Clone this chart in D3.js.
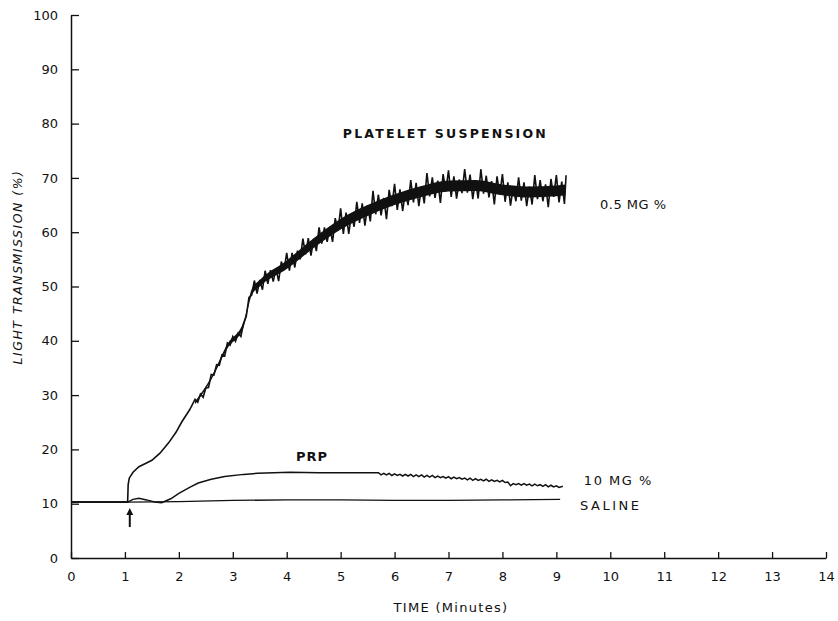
<!DOCTYPE html>
<html><head><meta charset="utf-8">
<script src="https://cdn.jsdelivr.net/npm/d3@7"></script>
<style>
html,body{margin:0;padding:0;background:#fff;}
svg text{font-family:"DejaVu Sans",sans-serif;fill:#111;}
</style></head>
<body><svg id="c" width="838" height="621"></svg>
<script>
// ---- data ----
const xTicks = [0,1,2,3,4,5,6,7,8,9,10,11,12,13,14];
const yTicks = [0,10,20,30,40,50,60,70,80,90,100];
const xTitle = "TIME (Minutes)";
const yTitle = "LIGHT TRANSMISSION (%)";
const seriesLabels = ["PLATELET SUSPENSION","0.5 MG %","PRP","10 MG %","SALINE"];
const arrowTime = 1.09;

const salineData = [[0,10.3],[1.05,10.3],[2,10.4],[3,10.6],[4,10.7],[5,10.7],[6,10.6],[7,10.6],[8,10.7],[9.07,10.8]];

const prpData = [[0,10.3],[1.05,10.3],[1.15,10.8],[1.26,11.0],[1.4,10.7],[1.55,10.3],[1.68,10.2],[1.85,10.9],[2.0,11.9],[2.2,13.0],[2.36,13.8],[2.6,14.5],[2.85,15.0],[3.2,15.4],[3.46,15.6],[4.06,15.8],[4.6,15.7],[5.28,15.7],[5.65,15.7],
[5.70,15.7],[5.75,15.3],[5.80,15.6],[5.85,15.3],[5.90,15.6],[5.95,15.2],[6.00,15.5],[6.05,15.2],[6.10,15.4],[6.15,15.1],[6.20,15.4],[6.25,15.1],[6.30,15.4],[6.35,15.0],[6.40,15.3],[6.45,15.0],[6.50,15.3],[6.55,14.9],[6.60,15.2],[6.65,14.9],[6.70,15.2],[6.75,14.8],[6.80,15.1],[6.85,14.8],[6.90,15.0],[6.95,14.7],[7.00,15.0],[7.05,14.6],[7.10,14.9],[7.15,14.6],[7.20,14.8],[7.25,14.5],[7.30,14.7],[7.35,14.4],[7.40,14.7],[7.45,14.3],[7.50,14.6],[7.55,14.3],[7.60,14.5],[7.65,14.2],[7.70,14.5],[7.75,14.1],[7.80,14.4],[7.85,14.1],[7.90,14.3],[7.95,14.0],[8.00,14.3],[8.05,13.9],[8.10,14.0],[8.15,13.3],[8.20,13.7],[8.25,13.5],[8.30,13.7],[8.35,13.4],[8.40,13.7],[8.45,13.4],[8.50,13.6],[8.55,13.3],[8.60,13.6],[8.65,13.3],[8.70,13.5],[8.75,13.2],[8.80,13.5],[8.85,13.1],[8.90,13.4],[8.95,13.1],[9.00,13.3],[9.05,13.0],[9.12,13.2]];

const plateletData = [[0,10.3],[1.05,10.3],[1.06,13.5],[1.08,14.7],[1.15,15.8],[1.26,16.8],[1.4,17.5],[1.5,18.0],[1.65,19.3],[1.81,21.2],[1.95,23.2],[2.05,25.0],[2.2,27.3],
[2.30,29.2],[2.35,28.7],[2.40,30.2],[2.45,29.6],[2.50,31.3],[2.55,31.4],[2.60,33.8],[2.65,33.7],[2.70,35.6],[2.75,35.5],[2.80,37.4],[2.85,37.2],[2.90,39.6],[2.95,39.2],[3.00,40.8],[3.05,39.9],[3.10,41.4],[3.15,40.8],[3.20,43.2],[3.25,44.5],[3.30,48.0],[3.35,48.4],[3.40,51.1],[3.45,48.7],[3.50,51.2],[3.55,49.4],[3.60,52.9],[3.65,50.5],[3.70,53.0],[3.75,50.9],[3.80,53.3],[3.85,51.0],[3.90,54.6],[3.95,53.0],[4.00,56.2],[4.05,52.9],[4.10,56.2],[4.15,53.5],[4.20,56.6],[4.25,55.0],[4.30,58.8],[4.35,55.9],[4.40,58.9],[4.45,55.7],[4.50,58.8],[4.55,56.5],[4.60,60.9],[4.65,57.9],[4.70,60.9],[4.75,58.2],[4.80,61.0],[4.85,58.2],[4.90,62.6],[4.95,60.3],[5.00,64.4],[5.05,59.7],[5.10,63.6],[5.15,59.7],[5.20,63.3],[5.25,61.0],[5.30,65.6],[5.35,61.7],[5.40,65.3],[5.45,61.2],[5.50,65.0],[5.55,62.0],[5.60,67.6],[5.65,63.3],[5.70,66.9],[5.75,63.1],[5.80,66.3],[5.85,62.4],[5.90,67.8],[5.95,64.8],[6.00,68.9],[6.05,64.1],[6.10,67.9],[6.15,63.9],[6.20,67.5],[6.25,65.0],[6.30,69.6],[6.35,65.5],[6.40,69.1],[6.45,64.8],[6.50,68.5],[6.55,65.3],[6.60,70.9],[6.65,66.6],[6.70,70.1],[6.75,66.3],[6.80,69.5],[6.85,65.4],[6.90,70.7],[6.95,67.5],[7.00,71.4],[7.05,66.5],[7.10,70.3],[7.15,66.2],[7.20,69.7],[7.25,67.2],[7.30,71.6],[7.35,67.3],[7.40,70.6],[7.45,66.1],[7.50,69.6],[7.55,66.2],[7.60,71.6],[7.65,67.1],[7.70,70.4],[7.75,66.4],[7.80,69.4],[7.85,65.1],[7.90,70.3],[7.95,66.9],[8.00,70.7],[8.05,65.6],[8.10,69.2],[8.15,64.9],[8.20,68.3],[8.25,65.7],[8.30,70.1],[8.35,65.8],[8.40,69.2],[8.45,64.8],[8.50,68.4],[8.55,65.1],[8.60,70.5],[8.65,66.1],[8.70,69.6],[8.75,65.7],[8.80,68.8],[8.85,64.6],[8.90,69.8],[8.95,66.5],[9.00,70.5],[9.05,65.5],[9.10,69.3],[9.15,65.2],[9.18,70.5]];

// dense core of the noisy platelet trace: [time, low, high]
const plateletCore = [[2.3,28.3,28.8],[2.6,32.8,33.3],[2.9,38.6,39.4],[3.2,42.5,43.5],[3.35,48.4,49.5],[3.5,50.0,51.2],[4.0,53.2,54.8],[4.5,57.1,58.9],[5.0,60.5,62.5],[5.5,63.0,65.0],[6.0,65.0,67.0],[6.5,66.5,68.5],[7.0,67.5,69.5],[7.5,67.6,69.6],[8.0,66.8,68.8],[8.5,66.4,68.4],[9.0,66.6,68.6],[9.17,66.8,68.8]];

// ---- layout ----
const svg = d3.select("#c");
const x = d3.scaleLinear().domain([0,14]).range([71,826]);
const y = d3.scaleLinear().domain([0,100]).range([558,15]);

// axes
const yAxis = svg.append("g").attr("transform","translate(71,0)")
  .call(d3.axisLeft(y).tickValues(yTicks).tickSize(-8).tickSizeOuter(0).tickPadding(13));
yAxis.selectAll("text").style("font-size","13px");
const xAxis = svg.append("g").attr("transform","translate(0,558)")
  .call(d3.axisBottom(x).tickValues(xTicks).tickSize(-6).tickSizeOuter(0).tickPadding(14));
xAxis.selectAll("text").style("font-size","13px");
svg.selectAll(".domain").attr("stroke","#111").attr("stroke-width",1.5);
svg.selectAll(".tick line").attr("stroke","#111").attr("stroke-width",1.3);
svg.selectAll(".tick text").attr("fill","#111");

// titles
svg.append("text").attr("x",451).attr("y",612).attr("text-anchor","middle")
  .style("font-size","13px").style("letter-spacing","1.3px").text(xTitle);
svg.append("text").attr("transform","translate(22,267) rotate(-90)").attr("text-anchor","middle")
  .style("font-size","12.5px").style("font-style","italic").style("letter-spacing","1.5px").text(yTitle);

// lines
const line = d3.line().x(d=>x(d[0])).y(d=>y(d[1]));
svg.append("path").datum(salineData).attr("d",line).attr("fill","none").attr("stroke","#111").attr("stroke-width",1.3);
svg.append("path").datum(prpData).attr("d",line).attr("fill","none").attr("stroke","#111").attr("stroke-width",1.5);
const core = d3.area().x(d=>x(d[0])).y0(d=>y(d[1])).y1(d=>y(d[2])).curve(d3.curveMonotoneX);
svg.append("path").datum(plateletCore).attr("d",core).attr("fill","#111");
svg.append("path").datum(plateletData).attr("d",line).attr("fill","none").attr("stroke","#111").attr("stroke-width",1.6).attr("stroke-linejoin","miter");

// arrow
const ax = x(arrowTime);
svg.append("line").attr("x1",ax).attr("x2",ax).attr("y1",y(8.2)).attr("y2",y(5.7)).attr("stroke","#111").attr("stroke-width",2);
svg.append("path").attr("d",`M${ax-3.5},${y(7.9)} L${ax},${y(9.2)} L${ax+3.5},${y(7.9)} Z`).attr("fill","#111");

// series labels
const lab = [
  {t:seriesLabels[0], xv:5.04, yv:77.3, b:true, ls:2.2, fs:12.5},
  {t:seriesLabels[1], xv:9.81, yv:64.3, b:false, ls:0.5, fs:13},
  {t:seriesLabels[2], xv:4.17, yv:17.9, b:true, ls:1, fs:13},
  {t:seriesLabels[3], xv:9.51, yv:13.5, b:false, ls:1.5, fs:13},
  {t:seriesLabels[4], xv:9.44, yv:8.8, b:false, ls:2.5, fs:13}
];
lab.forEach(l=>{
  svg.append("text").attr("x",x(l.xv)).attr("y",y(l.yv))
    .style("font-size",l.fs+"px").style("font-weight", l.b?"bold":"normal").style("letter-spacing",l.ls+"px").text(l.t);
});
</script></body></html>
